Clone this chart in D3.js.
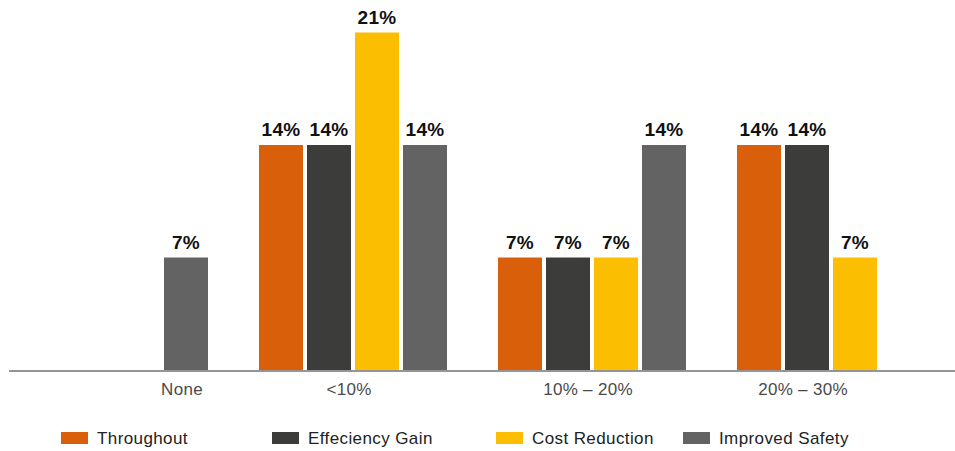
<!DOCTYPE html>
<html>
<head>
<meta charset="utf-8">
<script src="https://cdn.jsdelivr.net/npm/d3@7"></script>
<style>
  html, body { margin: 0; padding: 0; background: #fff; }
  svg { display: block; font-family: "Liberation Sans", Arial, Helvetica, sans-serif; }
</style>
</head>
<body>
<svg id="chart" width="955" height="451"></svg>
<script>
// Share of respondents by expected improvement range
const groups = ["None", "<10%", "10% – 20%", "20% – 30%"];
const series = ["Throughout", "Effeciency Gain", "Cost Reduction", "Improved Safety"];
const throughout     = [0, 14, 7, 14];
const efficiencyGain = [0, 14, 7, 14];
const costReduction  = [0, 21, 7, 7];
const improvedSafety = [7, 14, 14, 0];
const colors = ["#d95f0b", "#3c3c3b", "#fbbe00", "#636363"];

const values = [throughout, efficiencyGain, costReduction, improvedSafety];

const svg = d3.select("#chart");
const baseY = 370;

const x0 = d3.scaleBand()
  .domain(groups)
  .range([-5.5, 950.5])
  .paddingInner(51 / 239)
  .paddingOuter(51 / 2 / 239);

const x1 = d3.scaleBand()
  .domain(series)
  .range([0, x0.bandwidth()])
  .paddingInner(4 / 48)
  .paddingOuter(0);

const y = d3.scaleLinear().domain([0, 21]).range([baseY, 32.5]);

const color = d3.scaleOrdinal().domain(series).range(colors);

// flatten into one record per bar
const bars = [];
groups.forEach((g, gi) => {
  series.forEach((s, si) => {
    bars.push({ group: g, series: s, value: values[si][gi] });
  });
});
const shown = bars.filter(d => d.value > 0);

const gBars = svg.append("g");
gBars.selectAll("rect")
  .data(shown)
  .join("rect")
  .attr("x", d => x0(d.group) + x1(d.series))
  .attr("y", d => y(d.value))
  .attr("width", x1.bandwidth())
  .attr("height", d => baseY - y(d.value))
  .attr("fill", d => color(d.series));

// value labels
gBars.selectAll("text")
  .data(shown)
  .join("text")
  .attr("x", d => x0(d.group) + x1(d.series) + x1.bandwidth() / 2)
  .attr("y", d => y(d.value) - 9)
  .attr("text-anchor", "middle")
  .attr("font-size", 19)
  .attr("font-weight", "bold")
  .attr("letter-spacing", 0.3)
  .attr("fill", "#111")
  .text(d => d.value + "%");

// baseline
svg.append("line")
  .attr("x1", 9).attr("x2", 955)
  .attr("y1", baseY + 1).attr("y2", baseY + 1)
  .attr("stroke", "#959595")
  .attr("stroke-width", 2);

// category labels, centred under the bars that carry a value
const labelX = groups.map(g => {
  const xs = shown.filter(d => d.group === g)
    .map(d => x0(g) + x1(d.series));
  return (d3.min(xs) + d3.max(xs) + x1.bandwidth()) / 2 - 4;
});
svg.append("g").selectAll("text")
  .data(groups)
  .join("text")
  .attr("x", (d, i) => labelX[i])
  .attr("y", 395)
  .attr("text-anchor", "middle")
  .attr("font-size", 17)
  .attr("letter-spacing", 0.3)
  .attr("fill", "#4a4a4a")
  .text(d => d);

// legend
const legendX = [61, 272, 496, 683];
const legend = svg.append("g").selectAll("g")
  .data(series)
  .join("g")
  .attr("transform", (d, i) => `translate(${legendX[i]},432)`);
legend.append("rect")
  .attr("width", 27).attr("height", 12)
  .attr("fill", d => color(d));
legend.append("text")
  .attr("x", 36).attr("y", 12)
  .attr("font-size", 17)
  .attr("letter-spacing", 0.4)
  .attr("fill", "#222")
  .text(d => d);
</script>
</body>
</html>
